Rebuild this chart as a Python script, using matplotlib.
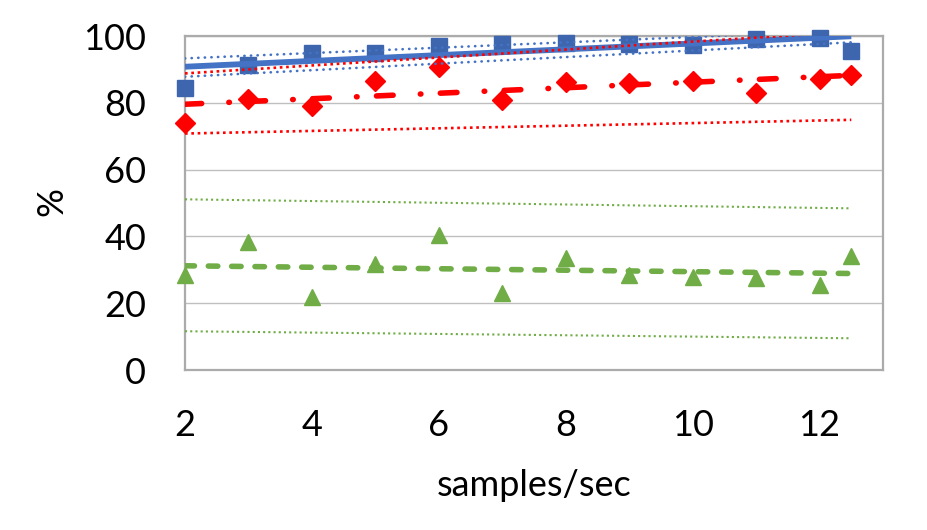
import numpy as np
import matplotlib
matplotlib.use("Agg")
import matplotlib.pyplot as plt

# ---- data ----
x = [2, 3, 4, 5, 6, 7, 8, 9, 10, 11, 12, 12.5]
blue = [84.3, 91.3, 94.8, 94.8, 97.0, 97.6, 98.0, 97.6, 97.3, 99.0, 99.3, 95.5]
red = [73.9, 81.0, 79.1, 86.5, 90.6, 80.8, 86.1, 86.0, 86.5, 83.0, 87.0, 88.3]
green = [28.3, 38.2, 21.8, 31.6, 40.5, 23.0, 33.4, 28.3, 27.9, 27.6, 25.4, 34.0]

band_x = [2, 12.5]
blue_upper = [93.3, 101.7]
blue_lower = [87.8, 98.1]
red_upper = [88.8, 101.3]
red_lower = [70.8, 74.9]
green_upper = [51.1, 48.4]
green_lower = [11.6, 9.5]

xticks = [2, 4, 6, 8, 10, 12]
yticks = [0, 20, 40, 60, 80, 100]
xlabel = "samples/sec"
ylabel = "%"

BLUE = "#4472C4"
BLUE_M = "#3D66AE"
RED = "#FF0000"
GREEN = "#70AD47"

plt.rcParams['font.family'] = ['Lato', 'DejaVu Sans']

fig = plt.figure(figsize=(9.28, 5.30), dpi=100)
ax = fig.add_axes([185/928, 160/530, 698/928, 334/530])

ax.set_xlim(2, 13)
ax.set_ylim(0, 100)
ax.set_xticks(xticks)
ax.set_yticks(yticks)
ax.tick_params(length=0, labelsize=26, pad=28)
ax.grid(axis='y', color='#BFBFBF', linewidth=1.0)
ax.set_axisbelow(True)
for s in ax.spines.values():
    s.set_color('#ABABAB')
    s.set_linewidth(1.6)

# markers
ax.plot(x, blue, linestyle='none', marker='s', markersize=11, color=BLUE_M, zorder=3, clip_on=False)
ax.plot(x, red, linestyle='none', marker='D', markersize=10, color=RED, zorder=3, clip_on=False)
ax.plot(x, green, linestyle='none', marker='^', markersize=11.5, color=GREEN, zorder=3, clip_on=False)

xa = np.array(x)
xr = np.array([min(x), max(x)])

def trend(vals):
    k, b = np.polyfit(xa, np.array(vals), 1)
    return k * xr + b

# trend lines
ax.plot(xr, trend(blue), color=BLUE, linewidth=4.2, solid_capstyle='butt', zorder=4)
ax.plot(xr, trend(red), color=RED, linewidth=4.0, linestyle=(0, (3.0, 4.9, 0.1, 3.5)),
        dash_capstyle='round', zorder=4)
ax.plot(xr, trend(green), color=GREEN, linewidth=4.0, linestyle=(0, (1.7, 2.5)),
        dash_capstyle='round', zorder=4)

# band lines
ax.plot(band_x, blue_upper, color=BLUE, linewidth=1.9, linestyle=(0, (0.1, 2.4)), dash_capstyle='round', zorder=4)
ax.plot(band_x, blue_lower, color=BLUE, linewidth=1.9, linestyle=(0, (0.1, 2.4)), dash_capstyle='round', zorder=4)
ax.plot(band_x, red_upper, color=RED, linewidth=1.9, linestyle=(0, (1, 1.4)), dash_capstyle='butt', zorder=4)
ax.plot(band_x, red_lower, color=RED, linewidth=1.9, linestyle=(0, (1, 1.4)), dash_capstyle='butt', zorder=4)
ax.plot(band_x, green_upper, color=GREEN, linewidth=1.5, linestyle=(0, (1, 1.5)), dash_capstyle='butt', zorder=4)
ax.plot(band_x, green_lower, color=GREEN, linewidth=1.5, linestyle=(0, (1, 1.5)), dash_capstyle='butt', zorder=4)

fig.text(534/928, 1 - 485/530, xlabel, ha='center', va='center', fontsize=26)
fig.text(52/928, 1 - 202/530, ylabel, ha='center', va='center', fontsize=26, rotation=90)

fig.savefig("out.png", dpi=100)
